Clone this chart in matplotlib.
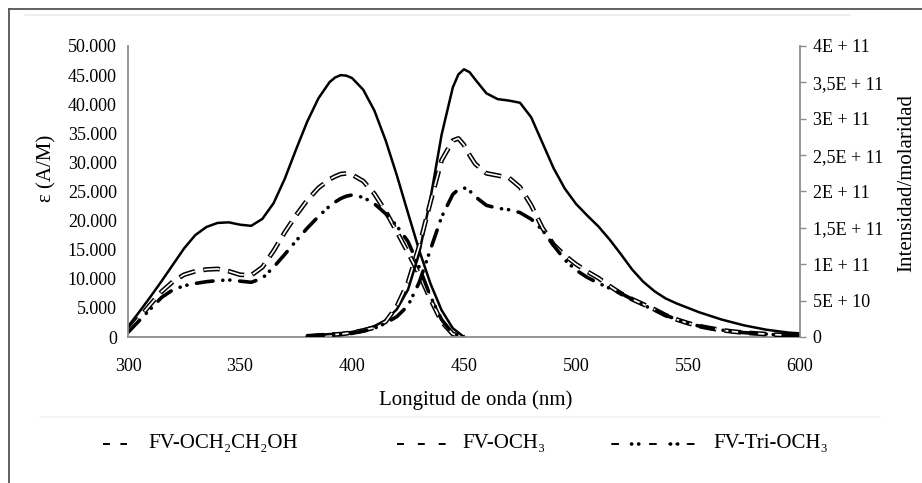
import numpy as np
import matplotlib
matplotlib.use('Agg')
import matplotlib.pyplot as plt
from matplotlib.lines import Line2D

plt.rcParams['font.family'] = ['Liberation Serif', 'DejaVu Serif']
plt.rcParams['lines.scale_dashes'] = False

# ---------------- data ----------------
series_names = ['FV-OCH₂CH₂OH', 'FV-OCH₃', 'FV-Tri-OCH₃']

wl_abs = [300, 305, 310, 315, 320, 325, 330, 335, 340, 345, 350, 355, 360, 365, 370,
          375, 380, 385, 390, 392.5, 395, 397.5, 400, 405, 410, 415, 420, 425, 430, 435,
          440, 445, 450]
abs_och2ch2oh = [1800, 4300, 6900, 9600, 12400, 15200, 17500, 18900, 19600, 19700, 19300,
                 19100, 20300, 23000, 27200, 32200, 37000, 41000, 43800, 44600, 45000, 44900,
                 44500, 42500, 38900, 33800, 27800, 21300, 14900, 9200, 4600, 1500, 0]
abs_och3 = [1000, 3300, 5600, 7800, 9500, 10700, 11300, 11600, 11700, 11300, 10700,
            10600, 12000, 14800, 18000, 20900, 23500, 25600, 27100, 27600, 28000, 28100,
            27900, 26800, 24600, 21600, 18100, 14500, 10800, 6500, 2600, 500, 0]
abs_tri = [800, 2800, 4800, 6800, 8100, 8800, 9200, 9500, 9700, 9800, 9600,
           9400, 10100, 12000, 14200, 16500, 18700, 20700, 22500, 23200, 23800, 24200,
           24400, 24000, 22900, 21200, 19100, 16400, 12000, 7000, 3000, 600, 0]

wl_em = [380, 385, 390, 395, 400, 405, 410, 415, 420, 425, 430, 435, 440, 445, 447.5, 450,
         452.5, 455, 460, 465, 470, 475, 480, 485, 490, 495, 500, 505, 510, 515, 520, 525,
         530, 535, 540, 545, 550, 555, 560, 565, 570, 575, 580, 585, 590, 595, 600]
em_och2ch2oh = [0.2e10, 0.3e10, 0.4e10, 0.5e10, 0.7e10, 1.0e10, 1.5e10, 2.3e10, 3.8e10, 6.5e10,
                11.5e10, 19e10, 27.8e10, 34.3e10, 36.1e10, 36.8e10, 36.4e10, 35.4e10,
                33.5e10, 32.7e10, 32.5e10, 32.2e10, 30.2e10, 26.7e10, 23.2e10, 20.4e10,
                18.3e10, 16.7e10, 15.2e10, 13.4e10, 11.4e10, 9.3e10, 7.6e10, 6.3e10, 5.3e10,
                4.6e10, 4.0e10, 3.4e10, 2.9e10, 2.4e10, 2.0e10, 1.6e10, 1.3e10, 1.0e10,
                0.8e10, 0.6e10, 0.5e10]
em_och3 = [0.1e10, 0.2e10, 0.3e10, 0.4e10, 0.6e10, 0.9e10, 1.3e10, 2.1e10, 4.2e10, 7.5e10,
           12.5e10, 18.5e10, 24.3e10, 27.0e10, 27.3e10, 26.4e10, 25.0e10, 23.8e10,
           22.5e10, 22.2e10, 21.9e10, 20.6e10, 18.1e10, 15.0e10, 12.7e10, 11.2e10,
           10.0e10, 9.0e10, 8.1e10, 7.0e10, 6.0e10, 5.2e10, 4.5e10, 3.8e10, 3.0e10,
           2.4e10, 1.9e10, 1.5e10, 1.2e10, 0.95e10, 0.75e10, 0.6e10, 0.5e10, 0.4e10,
           0.3e10, 0.25e10, 0.2e10]
em_tri = [0.1e10, 0.2e10, 0.3e10, 0.4e10, 0.5e10, 0.8e10, 1.2e10, 1.9e10, 2.8e10, 4.3e10,
          7.5e10, 12e10, 16.5e10, 19.6e10, 20.3e10, 20.5e10, 20.1e10, 19.3e10, 18.1e10,
          17.7e10, 17.5e10, 17.1e10, 16.2e10, 14.7e10, 12.6e10, 10.6e10, 9.2e10, 8.2e10,
          7.4e10, 6.7e10, 6.0e10, 5.2e10, 4.4e10, 3.7e10, 3.0e10, 2.4e10, 1.9e10, 1.5e10,
          1.2e10, 0.95e10, 0.75e10, 0.6e10, 0.5e10, 0.4e10, 0.3e10, 0.25e10, 0.2e10]

x_ticks = [300, 350, 400, 450, 500, 550, 600]
y_left_ticks = [0, 5000, 10000, 15000, 20000, 25000, 30000, 35000, 40000, 45000, 50000]
y_left_labels = ['0', '5.000', '10.000', '15.000', '20.000', '25.000', '30.000',
                 '35.000', '40.000', '45.000', '50.000']
y_right_ticks = [0, 5e10, 1e11, 1.5e11, 2e11, 2.5e11, 3e11, 3.5e11, 4e11]
y_right_labels = ['0', '5E + 10', '1E + 11', '1,5E + 11', '2E + 11', '2,5E + 11',
                  '3E + 11', '3,5E + 11', '4E + 11']

# ---------------- figure ----------------
W, H = 922, 483
fig = plt.figure(figsize=(W / 100, H / 100), dpi=100)


def fx(px):
    return px / W


def fy(py):
    return 1 - py / H


ax = fig.add_axes([fx(128), fy(337), fx(800) - fx(128), fy(46) - fy(337)])
ax2 = ax.twinx()

GRAY = '#8c8c8c'


def plot_solid(a, x, y):
    a.plot(x, y, color='black', lw=1.8, solid_joinstyle='round')


def plot_double(a, x, y):
    a.plot(x, y, color='black', lw=3.4, ls=(0, (12, 6)), dash_capstyle='butt')
    a.plot(x, y, color='white', lw=1.2, ls=(17.4, (11.2, 6.8)), dash_capstyle='butt')


def plot_tri(a, x, y):
    a.plot(x, y, color='black', lw=2.6, ls=(0, (12, 7, 0.1, 5, 0.1, 7)),
           dash_capstyle='round')


plot_solid(ax, wl_abs, abs_och2ch2oh)
plot_double(ax, wl_abs, abs_och3)
plot_tri(ax, wl_abs, abs_tri)
plot_solid(ax2, wl_em, em_och2ch2oh)
plot_double(ax2, wl_em, em_och3)
plot_tri(ax2, wl_em, em_tri)

ax.set_xlim(300, 600)
ax.set_ylim(0, 50000)
ax2.set_ylim(0, 4e11)

ax.set_xticks(x_ticks)
ax.set_xticklabels([str(v) for v in x_ticks])
ax.set_yticks(y_left_ticks)
ax.set_yticklabels(y_left_labels)
ax2.set_yticks(y_right_ticks)
ax2.set_yticklabels(y_right_labels)

for a in (ax, ax2):
    a.spines['top'].set_visible(False)
    for s in a.spines.values():
        s.set_color(GRAY)
        s.set_linewidth(1.3)
    a.set_facecolor('none')
ax.spines['right'].set_visible(False)
ax2.spines['left'].set_visible(False)
ax2.spines['bottom'].set_visible(False)

ax.tick_params(axis='x', length=0, pad=15, labelsize=13)
ax.tick_params(axis='y', length=0, pad=8, labelsize=13)
ax2.tick_params(axis='y', length=4, width=1.0, color=GRAY, pad=5, labelsize=13)

fig.text(fx(47), fy(168), 'ε (A/M)', rotation=90, ha='center', va='center', fontsize=15)
fig.text(fx(907), fy(183), 'Intensidad/molaridad', rotation=90, ha='center',
         va='center', fontsize=15)
fig.text(fx(476), fy(400), 'Longitud de onda (nm)', ha='center', va='center', fontsize=15)

# legend (drawn manually)
leg_y = 444
fig.add_artist(Line2D([fx(103), fx(127)], [fy(leg_y)] * 2, transform=fig.transFigure,
                      color='black', lw=1.4, ls=(0, (5, 7.5))))
fig.add_artist(Line2D([fx(397), fx(447)], [fy(leg_y)] * 2, transform=fig.transFigure,
                      color='black', lw=1.4, ls=(0, (5, 10))))
fig.add_artist(Line2D([fx(612), fx(697)], [fy(leg_y)] * 2, transform=fig.transFigure,
                      color='black', lw=1.4, ls=(0, (4.5, 9.5, 0.1, 5, 0.1, 8)),
                      dash_capstyle='round'))
fig.add_artist(Line2D([fx(612), fx(697)], [fy(leg_y)] * 2, transform=fig.transFigure,
                      color='black', lw=2.6, ls=(13.9, (0.1, 5, 0.1, 22.8)),
                      dash_capstyle='round'))
for xpos, name in zip([148, 462, 713], series_names):
    fig.text(fx(xpos), fy(leg_y), name, ha='left', va='center', fontsize=15)

# frame
fig.add_artist(Line2D([fx(9), 1], [fy(9)] * 2, transform=fig.transFigure,
                      color='#555555', lw=1.3))
fig.add_artist(Line2D([fx(9)] * 2, [fy(9), 0], transform=fig.transFigure,
                      color='#555555', lw=1.3))
fig.add_artist(Line2D([fx(25), fx(850)], [fy(15)] * 2, transform=fig.transFigure,
                      color='#ececec', lw=1.2))
fig.add_artist(Line2D([fx(40), fx(880)], [fy(417)] * 2, transform=fig.transFigure,
                      color='#f2f2f2', lw=1.2))

fig.savefig('out.png', dpi=100)
